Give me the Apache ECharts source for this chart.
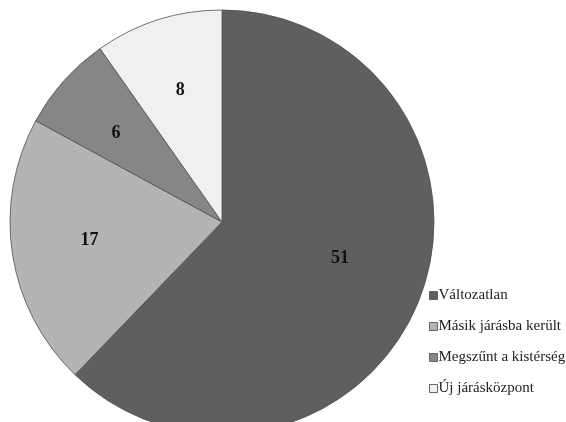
<!DOCTYPE html>
<html>
<head>
<meta charset="utf-8">
<script src="https://cdn.jsdelivr.net/npm/echarts@6/dist/echarts.min.js"></script>
<style>
  html, body { margin: 0; padding: 0; background: #fff; }
  #chart { width: 566px; height: 422px; }
</style>
</head>
<body>
<div id="chart"></div>
<script>
  // categories and values (clockwise from 12 o'clock)
  const categories = ['Változatlan', 'Másik járásba került', 'Megszűnt a kistérség', 'Új járásközpont'];
  const values = [51, 17, 6, 8];
  const colors = ['#5f5f5f', '#b4b4b4', '#868686', '#f0f0f0'];

  const center = [222, 222];
  const pieData = categories.map((name, i) => ({
    name: name,
    value: values[i],
    itemStyle: { color: colors[i] }
  }));

  const chart = echarts.init(document.getElementById('chart'));
  chart.setOption({
    animation: false,
    legend: {
      orient: 'vertical',
      left: 424,
      top: 283,
      icon: 'rect',
      itemWidth: 8,
      itemHeight: 8,
      itemGap: 16,
      textStyle: {
        fontFamily: 'Liberation Serif',
        fontSize: 15,
        color: '#222',
        padding: [0, 0, 0, -4]
      },
      data: categories.map((name, i) => ({
        name: name,
        itemStyle: { color: colors[i], borderColor: '#666', borderWidth: 1, opacity: 1 }
      }))
    },
    series: [
      {
        type: 'pie',
        center: center,
        radius: 212,
        startAngle: 90,
        clockwise: true,
        silent: true,
        itemStyle: { borderColor: '#505050', borderWidth: 0.8 },
        label: { show: false },
        labelLine: { show: false },
        data: pieData
      },
      {
        // invisible ring only used to place the value labels further out
        type: 'pie',
        center: center,
        radius: [0, 270],
        startAngle: 90,
        clockwise: true,
        silent: true,
        itemStyle: { color: 'rgba(0,0,0,0)', borderWidth: 0 },
        label: {
          show: true,
          position: 'inside',
          formatter: '{c}',
          fontFamily: 'Liberation Serif',
          fontWeight: 'bold',
          fontSize: 18,
          color: '#111'
        },
        // the big slice's label sits a bit closer in
        labelLayout: function (params) {
          if (params.dataIndex === 0) return { dx: -10, dy: -15 };
          if (params.dataIndex === 1) return { dx: 4, dy: -3 };
          if (params.dataIndex === 2) return { dx: -3, dy: 3 };
          return {};
        },
        labelLine: { show: false },
        data: categories.map((name, i) => ({ name: name, value: values[i] }))
      }
    ]
  });
</script>
</body>
</html>
